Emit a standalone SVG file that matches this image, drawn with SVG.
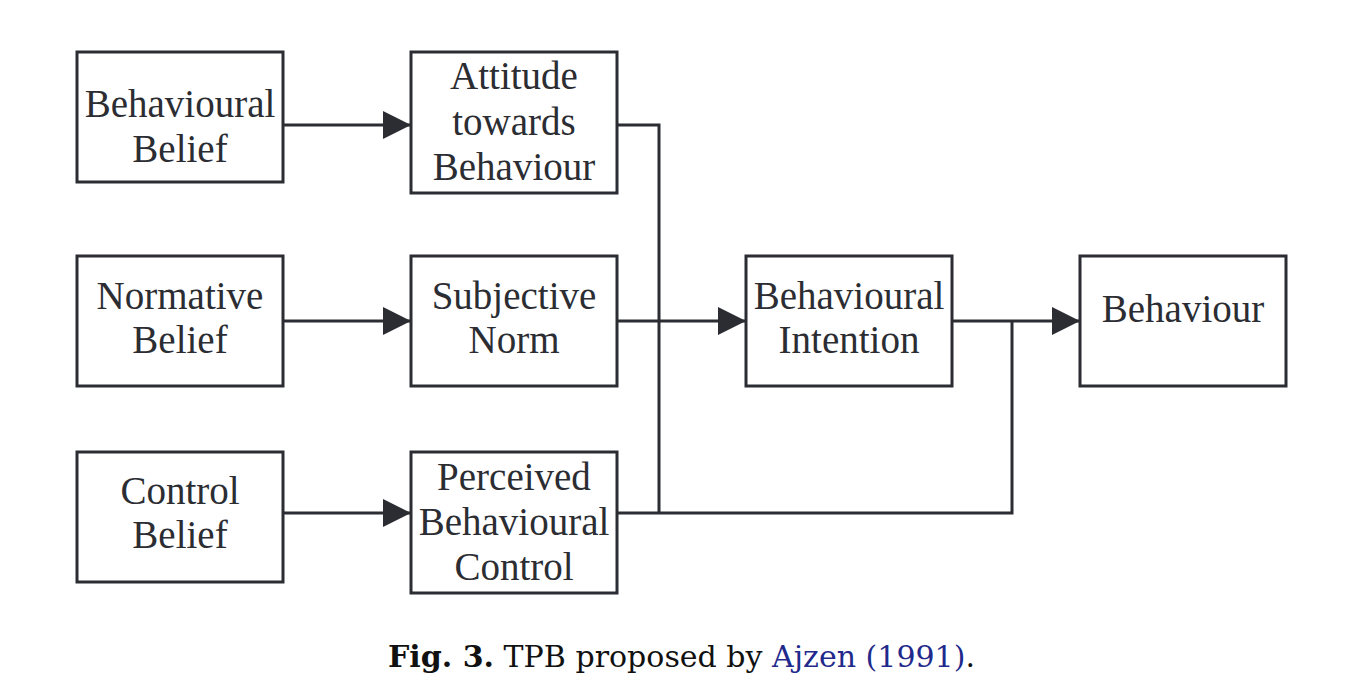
<svg xmlns="http://www.w3.org/2000/svg" width="1345" height="697" viewBox="0 0 1345 697">
<style>
.box{fill:#fff;stroke:#2b2d33;stroke-width:3}
.t{font-family:"Liberation Serif","Times New Roman",serif;font-size:39px;fill:#2b2d33;text-anchor:middle}
.ln{fill:none;stroke:#2b2d33;stroke-width:3}
.cap{font-family:"DejaVu Serif","Liberation Serif",serif;font-size:30px;fill:#111}
</style>
<defs>
<marker id="ah" markerUnits="userSpaceOnUse" markerWidth="30" markerHeight="30" refX="28" refY="14" orient="auto" viewBox="0 0 30 30">
<path d="M0,0 L28,14 L0,28 Z" fill="#2b2d33"/>
</marker>
</defs>
<rect width="1345" height="697" fill="#fff"/>
<g id="connectors">
<line class="ln" x1="283" y1="125" x2="411" y2="125" marker-end="url(#ah)"/>
<line class="ln" x1="283" y1="321" x2="411" y2="321" marker-end="url(#ah)"/>
<line class="ln" x1="283" y1="513" x2="411" y2="513" marker-end="url(#ah)"/>
<polyline class="ln" points="617,125 659,125 659,513"/>
<line class="ln" x1="617" y1="321" x2="746" y2="321" marker-end="url(#ah)"/>
<polyline class="ln" points="617,513 1012,513 1012,320"/>
<line class="ln" x1="952" y1="321" x2="1080" y2="321" marker-end="url(#ah)"/>
</g>
<g id="behavioural-belief"><rect class="box" x="77" y="52" width="206" height="130"/><text class="t" x="180" y="117">Behavioural</text><text class="t" x="180" y="162">Belief</text></g>
<g id="attitude"><rect class="box" x="411" y="52" width="206" height="141"/><text class="t" x="514" y="89">Attitude</text><text class="t" x="514" y="135">towards</text><text class="t" x="514" y="180">Behaviour</text></g>
<g id="normative-belief"><rect class="box" x="77" y="256" width="206" height="130"/><text class="t" x="180" y="309">Normative</text><text class="t" x="180" y="353">Belief</text></g>
<g id="subjective-norm"><rect class="box" x="411" y="256" width="206" height="130"/><text class="t" x="514" y="309">Subjective</text><text class="t" x="514" y="353">Norm</text></g>
<g id="control-belief"><rect class="box" x="77" y="452" width="206" height="130"/><text class="t" x="180" y="504">Control</text><text class="t" x="180" y="548">Belief</text></g>
<g id="pbc"><rect class="box" x="411" y="452" width="206" height="141"/><text class="t" x="514" y="490">Perceived</text><text class="t" x="514" y="535">Behavioural</text><text class="t" x="514" y="580">Control</text></g>
<g id="behavioural-intention"><rect class="box" x="746" y="256" width="206" height="130"/><text class="t" x="849" y="309">Behavioural</text><text class="t" x="849" y="353">Intention</text></g>
<g id="behaviour"><rect class="box" x="1080" y="256" width="206" height="130"/><text class="t" x="1183" y="322">Behaviour</text></g>
<text class="cap" x="388" y="667" textLength="587" lengthAdjust="spacingAndGlyphs"><tspan font-weight="bold">Fig. 3.</tspan> TPB proposed by <tspan fill="#1f2a8c">Ajzen (1991)</tspan>.</text>
</svg>
